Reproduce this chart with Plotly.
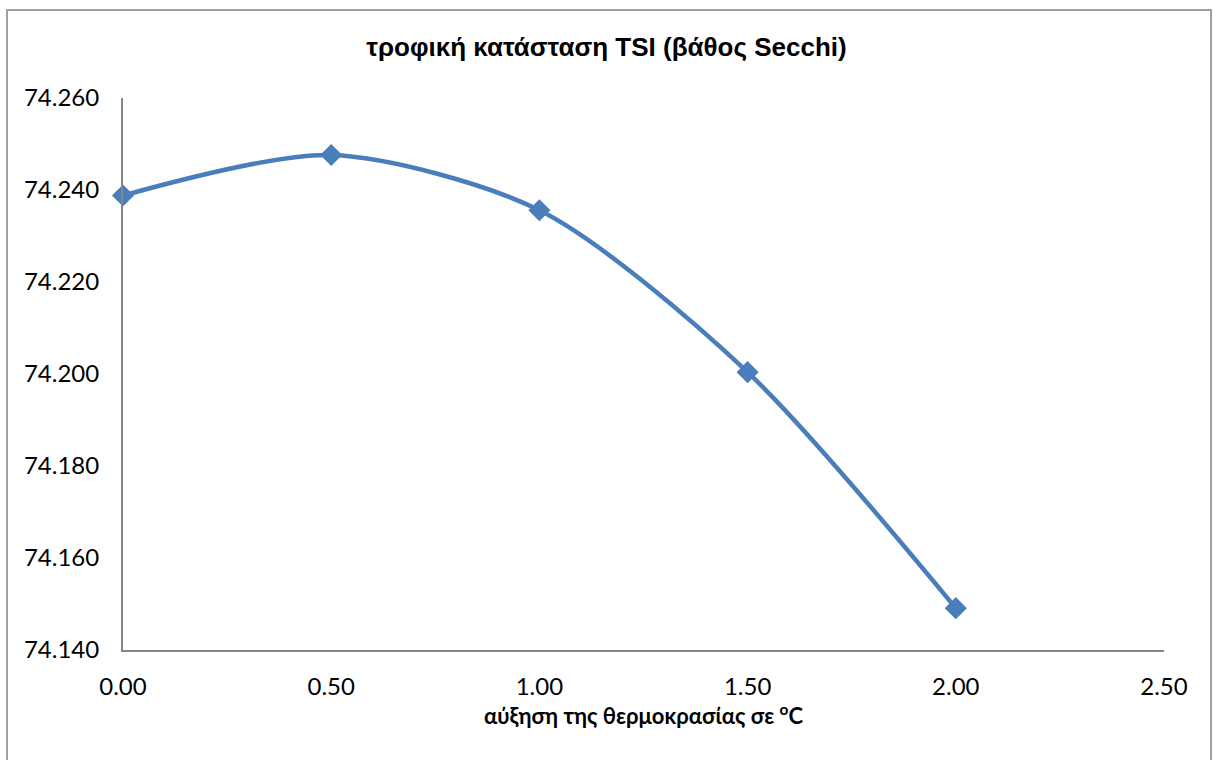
import plotly.graph_objects as go

temp_increase = [0.0, 0.5, 1.0, 1.5, 2.0]
tsi_secchi = [74.2388, 74.2476, 74.2356, 74.2004, 74.1491]

title_text = "τροφική κατάσταση TSI (βάθος Secchi)"
x_title = "αύξηση της θερμοκρασίας σε <sup>o</sup>C"

W, H = 1213, 760
ml, mr, mt, mb = 123, 49, 98, 110
pw, ph = W - ml - mr, H - mt - mb

fig = go.Figure()
fig.add_trace(go.Scatter(
    x=temp_increase, y=tsi_secchi, mode="lines+markers",
    line=dict(color="#4A7EBB", width=4.5, shape="spline", smoothing=0.8),
    marker=dict(symbol="diamond", size=17, color="#4A7EBB"),
    showlegend=False, cliponaxis=False,
))

def px_to_paper_x(px):
    return (px - ml) / pw

def px_to_paper_y(py):
    return 1 - (py - mt) / ph

fig.add_shape(type="rect", xref="paper", yref="paper",
              x0=px_to_paper_x(7), x1=px_to_paper_x(1211),
              y0=px_to_paper_y(790), y1=px_to_paper_y(10),
              line=dict(color="#A0A0A0", width=2), fillcolor="rgba(0,0,0,0)", layer="below")

fig.update_layout(
    width=W, height=H,
    margin=dict(l=ml, r=mr, t=mt, b=mb, autoexpand=False),
    paper_bgcolor="white", plot_bgcolor="white",
    title=dict(text=title_text, x=0.5, xanchor="center", y=1 - 47 / H, yanchor="middle",
               font=dict(family="Liberation Sans", size=26, color="black", weight="bold")),
    xaxis=dict(range=[0, 2.5], tickvals=[0, 0.5, 1.0, 1.5, 2.0, 2.5], tickformat=".2f",
               showgrid=False, zeroline=False, showline=True, linecolor="#868686", linewidth=2,
               ticks="", ticklabelstandoff=14,
               tickfont=dict(family="Lato", size=24, color="black"),
               title=dict(text=x_title, standoff=6,
                          font=dict(family="Lato", size=22, color="black", weight="bold"))),
    yaxis=dict(range=[74.140, 74.260], tickvals=[74.14, 74.16, 74.18, 74.20, 74.22, 74.24, 74.26],
               tickformat=".3f",
               showgrid=False, zeroline=False, showline=True, linecolor="#868686", linewidth=2,
               ticks="", ticklabelstandoff=17,
               tickfont=dict(family="Lato", size=24, color="black")),
)

fig.write_html("out.html", config={"displayModeBar": False},
               post_script="document.body.style.margin='0';document.body.style.overflow='hidden';")
